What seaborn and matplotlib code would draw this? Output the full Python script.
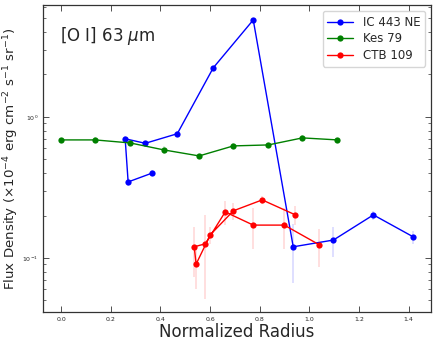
import numpy as np
import pandas as pd
import matplotlib
matplotlib.use("Agg")
import matplotlib.pyplot as plt
import seaborn as sns

# ==========================================
# Data
# ==========================================
ic443_r = [0.367, 0.270, 0.258, 0.339, 0.468, 0.613, 0.774, 0.935, 1.097, 1.258, 1.419]
ic443_f = [0.40, 0.346, 0.70, 0.65, 0.76, 2.23, 4.87, 0.120, 0.134, 0.202, 0.141]
ic443_e = [0.02, 0.02, 0.03, 0.03, 0.03, 0.08, 0.15, 0.053, 0.033, 0.015, 0.015]

kes79_r = [0.0, 0.137, 0.278, 0.415, 0.556, 0.694, 0.835, 0.972, 1.113]
kes79_f = [0.687, 0.687, 0.654, 0.583, 0.529, 0.623, 0.633, 0.710, 0.687]
kes79_e = [0.02, 0.03, 0.03, 0.04, 0.02, 0.03, 0.02, 0.03, 0.02]

ctb109_r = [1.040, 0.899, 0.774, 0.661, 0.581, 0.536, 0.544, 0.601, 0.694, 0.810, 0.944]
ctb109_f = [0.124, 0.171, 0.171, 0.212, 0.126, 0.120, 0.0906, 0.146, 0.216, 0.258, 0.202]
ctb109_e = [0.037, 0.055, 0.055, 0.04, 0.075, 0.047, 0.03, 0.02, 0.03, 0.015, 0.03]

names = ["IC 443 NE", "Kes 79", "CTB 109"]
colors = {"IC 443 NE": "b", "Kes 79": "g", "CTB 109": "r"}

frames = []
for name, r, f, e in [(names[0], ic443_r, ic443_f, ic443_e),
                      (names[1], kes79_r, kes79_f, kes79_e),
                      (names[2], ctb109_r, ctb109_f, ctb109_e)]:
    frames.append(pd.DataFrame({"radius": r, "flux": f, "err": e, "source": name}))
df = pd.concat(frames, ignore_index=True)

# ==========================================
# Plot
# ==========================================
sns.set_style("ticks")
plt.rcParams['font.family'] = ['DejaVu Sans']
plt.rcParams['mathtext.fontset'] = 'dejavusans'

fig = plt.figure(figsize=(4.36, 3.43), dpi=100)
ax = fig.add_axes([0.0986, 0.0904, 0.8899, 0.8946])

for name in names:
    sub = df[df["source"] == name]
    ax.errorbar(sub["radius"], sub["flux"], yerr=sub["err"], fmt='none',
                ecolor=colors[name], alpha=0.15, elinewidth=1.2, zorder=1)

sns.lineplot(data=df, x="radius", y="flux", hue="source", hue_order=names,
             palette=colors, sort=False, estimator=None, marker='o',
             markersize=4.5, markeredgewidth=0, linewidth=1.0, ax=ax, zorder=3)

ax.set_yscale('log')
ax.set_xlim(-0.073, 1.49)
ax.set_ylim(0.0414, 6.2)

ax.set_xlabel("Normalized Radius", fontsize=12, labelpad=1)
ax.set_ylabel(r"Flux Density ($\times10^{-4}$ erg cm$^{-2}$ s$^{-1}$ sr$^{-1}$)",
              fontsize=9.6, labelpad=0.5)
ax.text(0.045, 0.9, r"[O I] 63 $\mu$m", transform=ax.transAxes,
        fontsize=12, va='center', ha='left')

ax.tick_params(which='both', direction='in', top=True, right=True,
               labelsize=4.5, color='#333333')
ax.tick_params(which='major', length=4, width=0.6)
ax.tick_params(which='minor', length=2, width=0.5)
for sp in ax.spines.values():
    sp.set_linewidth(0.9)
    sp.set_color('#333333')

leg = ax.legend(loc='upper right', fontsize=8.5, frameon=True, fancybox=True,
                borderpad=0.4, handlelength=2.2, labelspacing=0.3)
leg.get_frame().set_edgecolor('#cccccc')

fig.savefig("out.png", dpi=100)
